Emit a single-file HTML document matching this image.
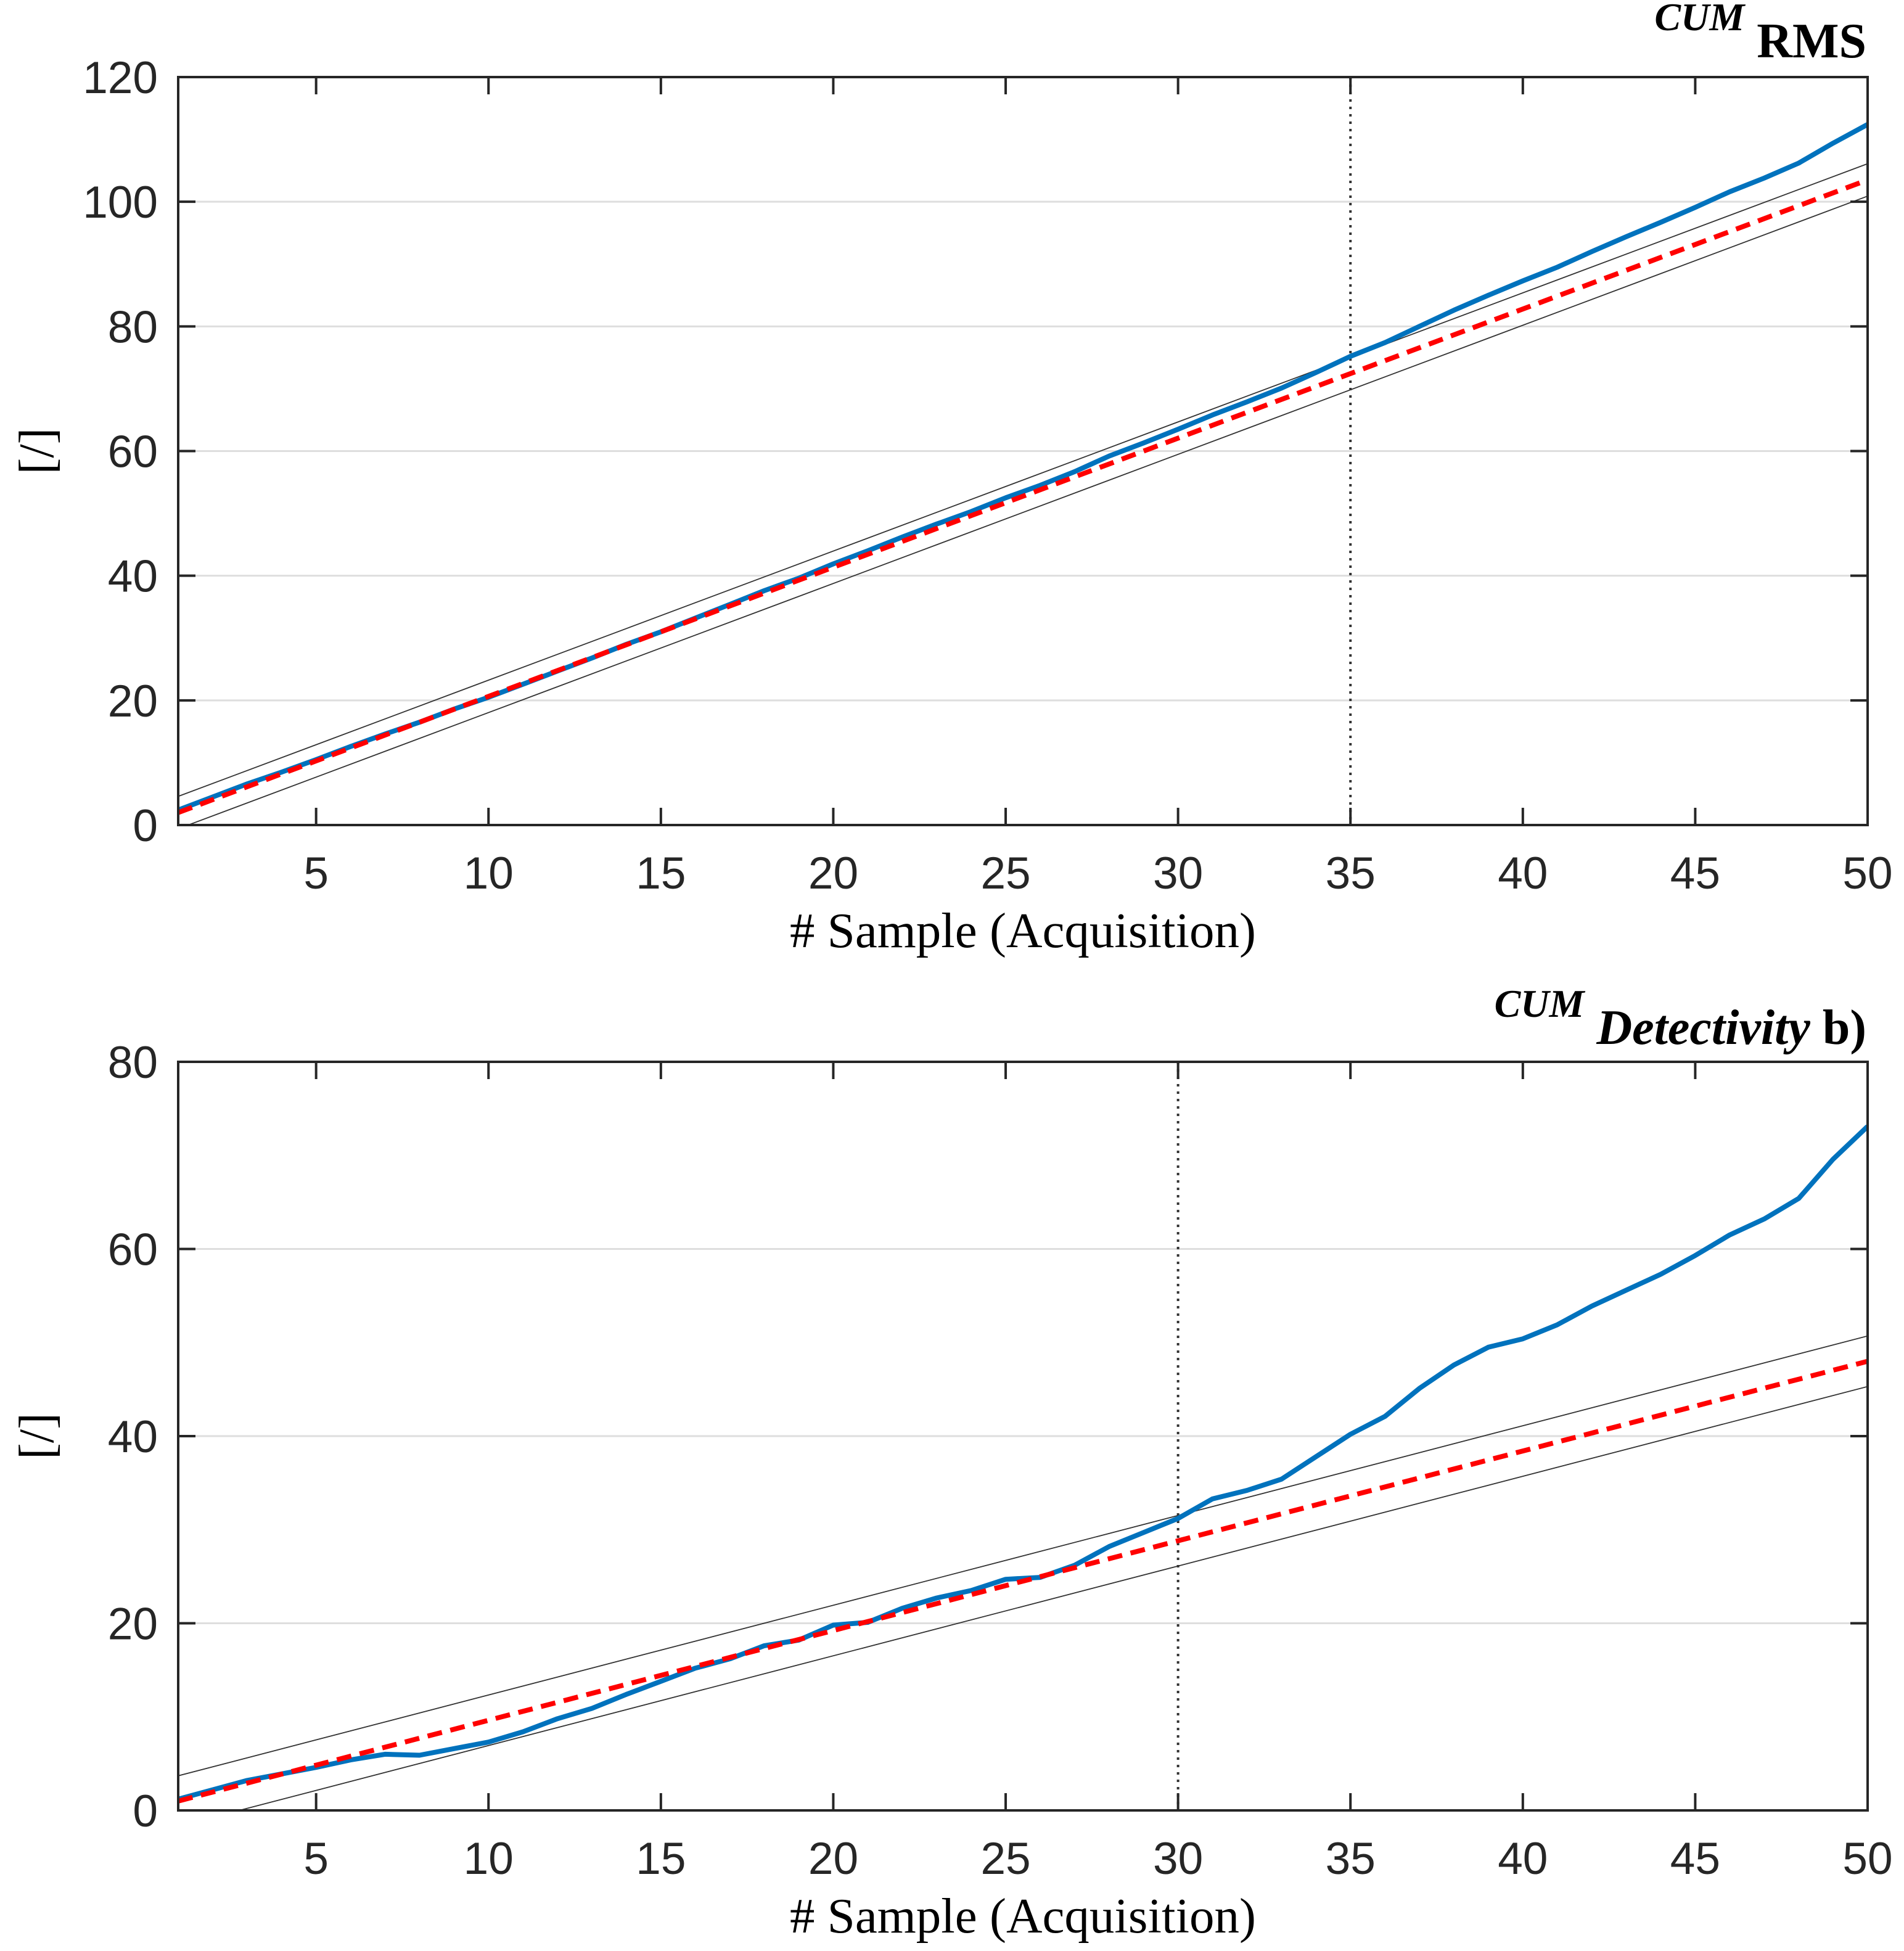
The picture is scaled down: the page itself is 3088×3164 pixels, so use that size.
<!DOCTYPE html>
<html><head><meta charset="utf-8">
<style>html,body{margin:0;padding:0;background:#fff}svg{display:block}</style>
</head><body>
<svg id="chart" width="3088" height="3164" viewBox="0 0 3088 3164" xmlns="http://www.w3.org/2000/svg"></svg>
<script>
const xTicks = [5,10,15,20,25,30,35,40,45,50];
const rmsYTicks = [0,20,40,60,80,100,120];
const detYTicks = [0,20,40,60,80];
const rmsBlue = [2.4,4.5,6.6,8.5,10.5,12.6,14.6,16.5,18.6,20.5,22.6,24.7,26.8,29,31,33.2,35.4,37.6,39.6,41.9,44,46.2,48.3,50.3,52.5,54.5,56.7,59.2,61.3,63.5,65.8,67.9,70.1,72.6,75.2,77.4,80,82.6,85,87.3,89.5,92,94.4,96.7,99.1,101.6,103.8,106.2,109.4,112.4];
const rmsFit = [2, 103.5];
const rmsBand = 2.6;
const rmsMarker = 35;
const detBlue = [1.2,2.2,3.2,3.9,4.6,5.4,6,5.9,6.6,7.3,8.4,9.8,10.9,12.4,13.8,15.2,16.2,17.6,18.2,19.8,20.1,21.6,22.7,23.5,24.7,24.9,26.2,28.2,29.7,31.2,33.3,34.2,35.4,37.8,40.2,42.1,45.1,47.6,49.5,50.4,51.9,53.9,55.6,57.3,59.3,61.5,63.2,65.4,69.6,73.1];
const detFit = [1, 48];
const detBand = 2.7;
const detMarker = 30;

const svg = document.getElementById('chart');
const NS = 'http://www.w3.org/2000/svg';
function mk(tag, attrs, parent){const e=document.createElementNS(NS,tag);for(const k in attrs)e.setAttribute(k,attrs[k]);(parent||svg).appendChild(e);return e;}

const L=289, R=3029;
function drawPanel(cfg){
  const g = mk('g',{});
  
  
  const T=cfg.top, B=cfg.bottom, ymax=cfg.ymax;
  const sx = v => L + (v-1)/(50-1)*(R-L);
  const sy = v => B - v/ymax*(B-T);
  const clip = mk('clipPath',{id:cfg.name+'-clip'},g);
  mk('rect',{x:L,y:T,width:R-L,height:B-T},clip);
  cfg.yTicks.forEach(t=>{
    if(t===0||t===ymax) return;
    const gl = mk('line',{x1:L,x2:R,y1:sy(t),y2:sy(t),stroke:'#dedede','stroke-width':3},g);
    
    
  });
  const plot = mk('g',{'clip-path':'url(#'+cfg.name+'-clip)'},g);
  [cfg.band,-cfg.band].forEach((d,i)=>{
    const bl = mk('line',{x1:sx(1),y1:sy(cfg.fit[0]+d),x2:sx(50),y2:sy(cfg.fit[1]+d),stroke:'#333','stroke-width':1.8},plot);
    
    
  });
  const vm = mk('line',{x1:sx(cfg.marker),x2:sx(cfg.marker),y1:T,y2:B,stroke:'#333','stroke-width':4,'stroke-dasharray':'4 8'},plot);
  
  
  const pts = cfg.blue.map((v,i)=>sx(i+1).toFixed(1)+','+sy(v).toFixed(1)).join(' ');
  const bp = mk('polyline',{points:pts,fill:'none',stroke:'#0072BD','stroke-width':8,'stroke-linejoin':'round'},plot);
  
  
  const rl = mk('line',{x1:sx(1),y1:sy(cfg.fit[0]),x2:sx(50),y2:sy(cfg.fit[1]),stroke:'#FF0000','stroke-width':8,'stroke-dasharray':'24 14'},plot);
  
  
  const box = mk('rect',{x:L,y:T,width:R-L,height:B-T,fill:'none',stroke:'#262626','stroke-width':4},g);
  
  
  const tl=28;
  xTicks.forEach(t=>{
    const x=sx(t);
    mk('line',{x1:x,x2:x,y1:B,y2:B-tl,stroke:'#262626','stroke-width':4},g);
    mk('line',{x1:x,x2:x,y1:T,y2:T+tl,stroke:'#262626','stroke-width':4},g);
    const lb = mk('text',{x:x,y:B+103,'text-anchor':'middle','font-family':'Liberation Sans, sans-serif','font-size':73,fill:'#262626'},g);
    lb.textContent=t;
    
    
  });
  cfg.yTicks.forEach(t=>{
    const y=sy(t);
    mk('line',{x1:L,x2:L+tl,y1:y,y2:y,stroke:'#262626','stroke-width':4},g);
    mk('line',{x1:R,x2:R-tl,y1:y,y2:y,stroke:'#262626','stroke-width':4},g);
    const lb = mk('text',{x:256,y:y+26,'text-anchor':'end','font-family':'Liberation Sans, sans-serif','font-size':73,fill:'#262626'},g);
    lb.textContent=t;
    
    
  });
  const xl = mk('text',{x:(L+R)/2,y:B+198,'text-anchor':'middle','font-family':'Liberation Serif, serif','font-size':81,fill:'#000'},g);
  xl.textContent='# Sample (Acquisition)';
  
  
  const yc=(T+B)/2;
  const yl = mk('text',{x:0,y:0,transform:'translate(86,'+yc+') rotate(-90)','text-anchor':'middle','font-family':'Liberation Serif, serif','font-size':80,fill:'#000'},g);
  yl.textContent='[/]';
  
  
  const tt = mk('text',{x:R-2,y:cfg.titleY,'text-anchor':'end','font-family':'Liberation Serif, serif',fill:'#000'},g);
  
  
  tt.innerHTML = cfg.title;
}
drawPanel({name:'rms-panel',top:125,bottom:1338,ymax:120,yTicks:rmsYTicks,blue:rmsBlue,fit:rmsFit,band:rmsBand,marker:rmsMarker,titleY:93,
  title:'<tspan font-style="italic" font-weight="bold" font-size="64" dy="-44">CUM</tspan><tspan font-weight="bold" font-size="80" dy="44"> RMS</tspan>'});
drawPanel({name:'detectivity-panel',top:1722,bottom:2936,ymax:80,yTicks:detYTicks,blue:detBlue,fit:detFit,band:detBand,marker:detMarker,titleY:1693,
  title:'<tspan font-style="italic" font-weight="bold" font-size="64" dy="-44">CUM</tspan><tspan font-style="italic" font-weight="bold" font-size="80" dy="44"> Detectivity</tspan><tspan font-weight="bold" font-size="80"> b)</tspan>'});
</script>
</body></html>
